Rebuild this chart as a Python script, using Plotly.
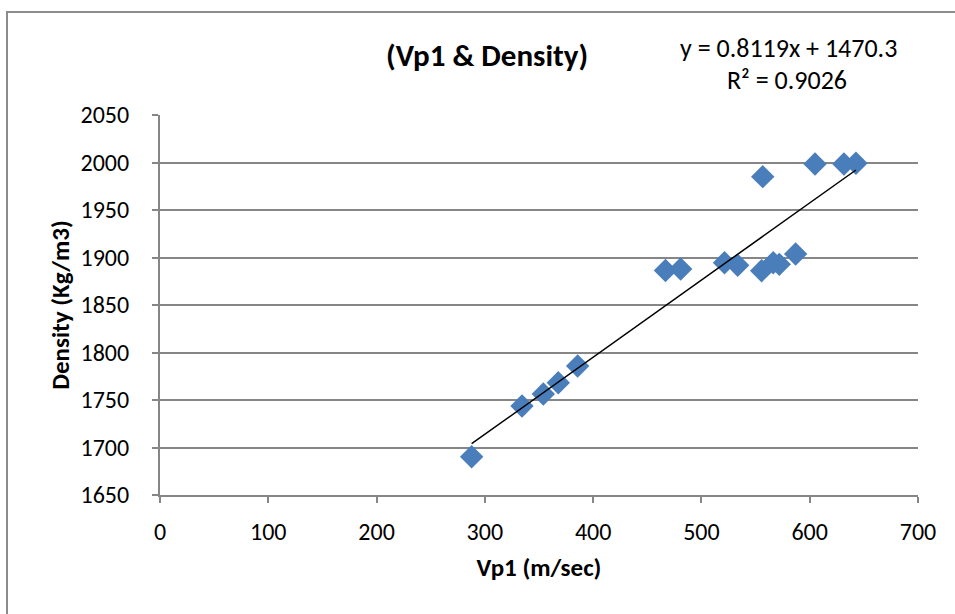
import plotly.graph_objects as go

vp1 = [287.8, 334.3, 354.0, 367.8, 385.7, 466.8, 480.8, 521.3, 533.5, 555.6,
       566.3, 571.9, 587.0, 556.6, 604.9, 631.6, 642.7]
density = [1690.3, 1743.7, 1756.3, 1768.2, 1785.8, 1886.3, 1887.9, 1894.5, 1891.8, 1886.1,
           1894.5, 1892.8, 1903.7, 1985.1, 1998.4, 1998.4, 1999.2]
slope = 0.8119
intercept = 1470.3
r2 = 0.9026
x_ticks = [0, 100, 200, 300, 400, 500, 600, 700]
y_ticks = [1650, 1700, 1750, 1800, 1850, 1900, 1950, 2000, 2050]

FONT = "Carlito, Lato, 'Open Sans', sans-serif"

tx = [min(vp1), max(vp1)]
ty = [slope * v + intercept for v in tx]

# body margin is removed below, so figure px == page px
L, T, R, B = 160, 115, 918, 495
W, H = 955, 614
PW, PH = R - L, B - T


def px(xp):
    return (xp - L) / PW


def py(yp):
    return (B - yp) / PH


fig = go.Figure()
fig.add_trace(go.Scatter(x=vp1, y=density, mode="markers",
                         marker=dict(symbol="diamond", size=18, color="#4A7EBB",
                                     line=dict(width=0)),
                         showlegend=False, cliponaxis=False))
fig.add_trace(go.Scatter(x=tx, y=ty, mode="lines",
                         line=dict(color="black", width=1.5), showlegend=False))

grid = "#868686"
fig.update_layout(
    width=W, height=H,
    margin=dict(l=L, r=W - R, t=T, b=H - B),
    paper_bgcolor="white", plot_bgcolor="white",
    font=dict(family=FONT, size=24, color="black"),
    xaxis=dict(range=[0, 700], tickvals=x_ticks, showgrid=False, zeroline=False,
               showline=True, linecolor=grid, linewidth=2, ticks="outside",
               ticklen=6, tickcolor=grid, tickwidth=1.5, ticklabelstandoff=8,
               title=dict(text="<b>Vp1 (m/sec)</b>", font=dict(size=25), standoff=14),
               tickfont=dict(size=24)),
    yaxis=dict(range=[1650, 2050], tickvals=y_ticks, showgrid=True, gridcolor=grid,
               gridwidth=2, zeroline=False, showline=True, linecolor=grid, linewidth=2,
               ticks="outside", ticklen=6, tickcolor=grid, tickwidth=1.5,
               ticklabelstandoff=18,
               title=dict(text="<b>Density (Kg/m3)</b>", font=dict(size=25), standoff=4),
               tickfont=dict(size=24)),
    shapes=[dict(type="rect", xref="paper", yref="paper",
                 x0=px(7), x1=px(990), y0=py(660), y1=py(12),
                 line=dict(color="#8c8c8c", width=2), fillcolor="rgba(0,0,0,0)",
                 layer="below")],
    annotations=[
        dict(text="<b>(Vp1 & Density)</b>", xref="paper", yref="paper",
             x=px(487), y=py(55), showarrow=False,
             font=dict(size=31), xanchor="center", yanchor="middle"),
        dict(text=f"y = {slope}x + {intercept}", xref="paper", yref="paper",
             x=px(788), y=py(48), showarrow=False,
             font=dict(size=26), xanchor="center", yanchor="middle"),
        dict(text=f"R² = {r2}", xref="paper", yref="paper",
             x=px(787), y=py(80), showarrow=False,
             font=dict(size=26), xanchor="center", yanchor="middle"),
    ],
)
fig.write_html("out.html", config={"displayModeBar": False},
               post_script="document.body.style.margin='0';document.body.style.overflow='hidden';")
